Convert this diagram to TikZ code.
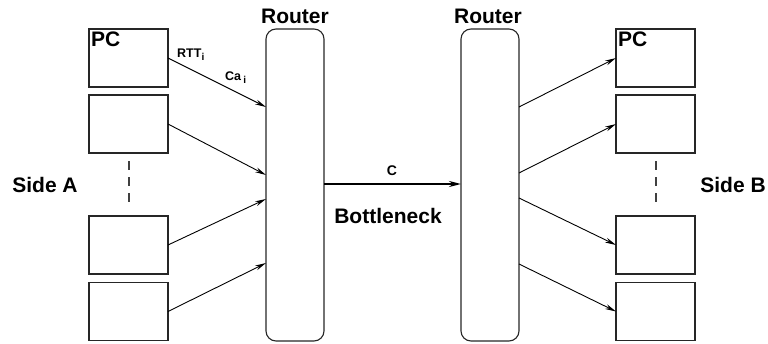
\documentclass[tikz,border=0pt]{standalone}
\usepackage{fontspec}
\setmainfont{Liberation Sans}
\usetikzlibrary{arrows.meta}
\newcommand{\subi}{\raisebox{-3pt}{\fontsize{10}{10}\selectfont i}}
\begin{document}
\begin{tikzpicture}[x=1pt,y=-1pt,
  pcbox/.style={draw=black!85,line width=1.1pt,minimum width=79pt,minimum height=58pt,inner sep=0pt,outer sep=0pt},
  router/.style={draw=black!85,line width=1.1pt,rounded corners=10pt,minimum width=58pt,minimum height=312pt,inner sep=0pt,outer sep=0pt},
  arr/.style={line width=0.9pt,-{Stealth[length=11pt,width=5pt]}},
  big/.style={font=\bfseries\fontsize{21}{24}\selectfont,inner sep=0pt},
  small/.style={font=\bfseries\fontsize{12.5}{14}\selectfont,inner sep=0pt},
  dsh/.style={draw=black!75,line width=1.1pt,dash pattern=on 9pt off 7pt}]
\useasboundingbox (0,0) rectangle (768,343);
% routers
\node[router] (r1) at (295,185) {};
\node[router] (r2) at (490,185) {};
\node[big,anchor=base] (lr1) at (295,23) {Router};
\node[big,anchor=base] (lr2) at (488,23) {Router};
% left PCs
\node[pcbox] (a1) at (128.5,58) {};
\node[pcbox] (a2) at (128.5,124) {};
\node[pcbox] (a3) at (128.5,245) {};
\node[pcbox] (a4) at (128.5,311.5) {};
% right PCs
\node[pcbox] (b1) at (655.5,58) {};
\node[pcbox] (b2) at (655.5,124) {};
\node[pcbox] (b3) at (655.5,245) {};
\node[pcbox] (b4) at (655.5,311.5) {};
\node[big,anchor=base west] (pca) at (91,46) {PC};
\node[big,anchor=base west] (pcb) at (618,46) {PC};
% dashed continuation
\coordinate (da1) at (129,161);
\coordinate (da2) at (129,208);
\coordinate (db1) at (656,161);
\coordinate (db2) at (656,208);
\draw[dsh] (da1) -- (da2);
\draw[dsh] (db1) -- (db2);
% side labels
\node[big,anchor=base] (sa) at (45,192) {Side A};
\node[big,anchor=base] (sb) at (733,192) {Side B};
% router ports
\coordinate (p1) at ([yshift=78pt]r1.west);
\coordinate (p2) at ([yshift=10pt]r1.west);
\coordinate (p3) at ([yshift=-14pt]r1.west);
\coordinate (p4) at ([yshift=-78pt]r1.west);
\coordinate (q1) at ([yshift=78pt]r2.east);
\coordinate (q2) at ([yshift=12pt]r2.east);
\coordinate (q3) at ([yshift=-13pt]r2.east);
\coordinate (q4) at ([yshift=-79pt]r2.east);
\draw[arr] (a1.east) -- (p1);
\draw[arr] (a2.east) -- (p2);
\draw[arr] (a3.east) -- (p3);
\draw[arr] (a4.east) -- (p4);
\draw[arr] (q1) -- (b1.west);
\draw[arr] (q2) -- (b2.west);
\draw[arr] (q3) -- (b3.west);
\draw[arr] (q4) -- (b4.west);
% bottleneck
\coordinate (c1) at ([yshift=1pt]r1.east);
\coordinate (c2) at ([yshift=1pt]r2.west);
\draw[line width=2pt,-{Stealth[length=12pt,width=6pt]}] (c1) -- (c2);
\node[font=\bfseries\fontsize{14}{16}\selectfont,inner sep=0pt,anchor=base] (lc) at (392,175) {C};
\node[big,anchor=base] (lb) at (388,223) {Bottleneck};
% link labels
\node[small,anchor=base west] (rtt) at (177,57) {RTT\subi};
\node[small,anchor=base west] (ca) at (225,80) {Ca\,\subi};
\end{tikzpicture}
\end{document}
